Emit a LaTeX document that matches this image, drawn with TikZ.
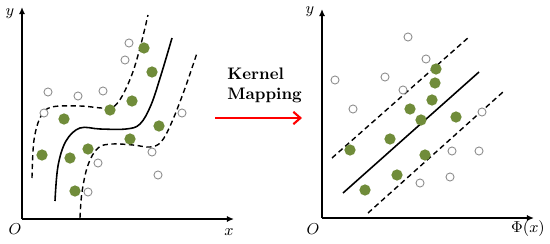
\documentclass[tikz,border=0pt]{standalone}
\usepackage{amsmath}
\usepackage{xcolor}
\usetikzlibrary{arrows.meta,positioning,calc}
\definecolor{svgreen}{RGB}{112,140,58}
\definecolor{ringgray}{RGB}{140,140,140}

\begin{document}
\begin{tikzpicture}[
    x=0.02cm, y=-0.02cm,
    axis/.style={-{Latex[length=4pt,width=3.5pt]}, line width=1pt},
    greendot/.style={circle, fill=svgreen, inner sep=0pt, minimum size=6.4pt},
    ringdot/.style={circle, draw=ringgray, line width=0.5pt, fill=white, inner sep=0pt, minimum size=4.6pt},
    margin/.style={dash pattern=on 3pt off 2pt, line width=0.8pt},
    hyper/.style={line width=0.9pt},
    lbl/.style={font=\fontsize{9}{10}\selectfont, inner sep=0pt},
    arrow/.style={-{Straight Barb[length=4pt,width=7pt]}, red, line width=1.2pt}
]
    \useasboundingbox (0,0) rectangle (550,243);

    % input space
    \coordinate (o1) at (22,219);
    \coordinate (y1) at (22,7);
    \coordinate (x1) at (234,219);
    \draw[axis] (o1) -- (y1);
    \draw[axis] (o1) -- (x1);
    \node[lbl] (ylab1) at (10,14) {$y$};
    \node[lbl] (olab1) at (15,229) {$O$};
    \node[lbl] (xlab1) at (229,232) {$x$};

    \draw[margin] plot[smooth, tension=0.6] coordinates {(32,178) (34,140) (41,116) (52,107) (80,106) (108,108) (119,101) (131,77) (140,48) (148,15)};
    \draw[hyper] plot[smooth, tension=0.6] coordinates {(55,201) (58,166) (66,141) (80,128) (100,129) (126,129) (140,124) (151,105) (161,75) (172,38)};
    \draw[margin] plot[smooth, tension=0.6] coordinates {(80,218) (82,192) (88,165) (98,148) (112,144) (133,145) (150,147) (161,142) (171,124) (184,91) (197,53)};

    \foreach \px/\py [count=\i] in {129/43, 125/60, 48/92, 78/96, 103/91, 44/113, 182/113, 152/152, 98/163, 158/175, 88/192}
        \node[ringdot] (inring\i) at (\px,\py) {};
    \foreach \px/\py [count=\i] in {144/48, 152/72, 132/101, 110/110, 64/119, 159/126, 130/139, 88/149, 42/155, 70/158, 75/191}
        \node[greendot] (ingreen\i) at (\px,\py) {};

    % kernel mapping
    \node[font=\fontsize{9.5}{11.5}\selectfont\bfseries, align=left, anchor=west, inner sep=0pt] (kernel) at (227,85) {Kernel\\Mapping};
    \coordinate (mapstart) at (215,118);
    \coordinate (mapend) at (302,118);
    \draw[arrow] (mapstart) -- (mapend);

    % feature space
    \coordinate (o2) at (322,218);
    \coordinate (y2) at (322,9);
    \coordinate (x2) at (534,218);
    \draw[axis] (o2) -- (y2);
    \draw[axis] (o2) -- (x2);
    \node[lbl] (ylab2) at (310,12) {$y$};
    \node[lbl] (olab2) at (313,229) {$O$};
    \node[lbl] (xlab2) at (528,229) {$\Phi(x)$};

    \coordinate (upa) at (332,158);
    \coordinate (upb) at (469,37);
    \coordinate (mida) at (343,193);
    \coordinate (midb) at (479,72);
    \coordinate (lowa) at (368,213);
    \coordinate (lowb) at (503,92);
    \draw[margin] (upa) -- (upb);
    \draw[hyper] (mida) -- (midb);
    \draw[margin] (lowa) -- (lowb);

    \foreach \px/\py [count=\i] in {408/37, 426/59, 335/80, 385/77, 403/90, 353/109, 482/112, 452/151, 479/151, 450/177, 420/183}
        \node[ringdot] (ftring\i) at (\px,\py) {};
    \foreach \px/\py [count=\i] in {436/69, 435/83, 432/100, 410/109, 421/120, 456/117, 390/139, 350/150, 425/155, 397/175, 365/190}
        \node[greendot] (ftgreen\i) at (\px,\py) {};
\end{tikzpicture}
\end{document}
